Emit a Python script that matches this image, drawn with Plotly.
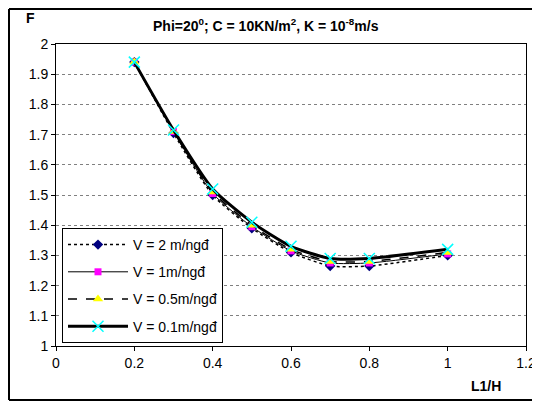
import plotly.graph_objects as go

x_vals = [0.2, 0.3, 0.4, 0.5, 0.6, 0.7, 0.8, 1.0]
v2 = [1.94, 1.705, 1.50, 1.39, 1.31, 1.265, 1.265, 1.30]
v1 = [1.94, 1.71, 1.505, 1.395, 1.315, 1.275, 1.275, 1.305]
v05 = [1.94, 1.71, 1.51, 1.40, 1.32, 1.28, 1.28, 1.31]
v01 = [1.94, 1.715, 1.52, 1.41, 1.33, 1.29, 1.29, 1.32]
names = ["V = 2 m/ngđ", "V = 1m/ngđ", "V = 0.5m/ngđ", "V = 0.1m/ngđ"]
y_ticks = [1, 1.1, 1.2, 1.3, 1.4, 1.5, 1.6, 1.7, 1.8, 1.9, 2]
x_ticks = [0, 0.2, 0.4, 0.6, 0.8, 1, 1.2]

fig = go.Figure()
styles = [
    dict(dash="dot", width=1.5, symbol="diamond", color="#000080", msize=8),
    dict(dash="solid", width=1, symbol="square", color="#FF00FF", msize=7),
    dict(dash="dash", width=1.5, symbol="triangle-up", color="#FFFF00", msize=9),
    dict(dash="solid", width=3, symbol="x-thin", color="#00FFFF", msize=11),
]
for i, (ys, nm, st) in enumerate(zip([v2, v1, v05, v01], names, styles)):
    fig.add_trace(go.Scatter(
        x=x_vals, y=ys, name=nm, mode="lines+markers", legendgroup=f"g{i}",
        line=dict(color="black", dash=st["dash"], width=st["width"], shape="spline", smoothing=0.6),
        marker=dict(symbol=st["symbol"], color=st["color"], size=st["msize"],
                    line=dict(color=st["color"], width=1.5 if st["symbol"] == "x-thin" else 0)),
    ))

OFF = 8  # page body margin offset
L, R, T, B = 56 - OFF, 526 - OFF, 44 - OFF, 346 - OFF  # plot area in figure px

def px2x(p):
    return (p - OFF - L) / (R - L)

def px2y(p):
    return (B - (p - OFF)) / (B - T)

fig.update_layout(
    width=540, height=404,
    margin=dict(l=L, r=540 - R, t=T, b=404 - B),
    paper_bgcolor="white", plot_bgcolor="white",
    font=dict(family="Liberation Sans, Arial, sans-serif", size=14, color="black"),
    showlegend=True,
    legend=dict(x=px2x(62), y=px2y(228), xanchor="left", yanchor="top",
                bordercolor="black", borderwidth=1, bgcolor="white",
                font=dict(size=14), tracegroupgap=6, itemwidth=60),
    xaxis=dict(range=[0, 1.2], tickvals=x_ticks, ticktext=["0", "0.2", "0.4", "0.6", "0.8", "1", "1.2"],
               showgrid=False, showline=True, linecolor="black", linewidth=1, mirror=True,
               ticks="outside", ticklen=4, tickcolor="black", zeroline=False, automargin=False),
    yaxis=dict(range=[1, 2], tickvals=y_ticks, ticktext=["1", "1.1", "1.2", "1.3", "1.4", "1.5", "1.6", "1.7", "1.8", "1.9", "2"],
               showgrid=True, gridcolor="#808080", griddash="dot", gridwidth=1,
               showline=True, linecolor="black", linewidth=1, mirror=True,
               ticks="outside", ticklen=4, tickcolor="black", zeroline=False, automargin=False),
)

# outer chart border (left, top, bottom; right edge lies outside the picture)
for (xa, ya, xb, yb) in [(9, 9, 9, 400), (9, 9, 560, 9), (9, 400, 560, 400)]:
    fig.add_shape(type="line", xref="paper", yref="paper",
                  x0=px2x(xa), y0=px2y(ya), x1=px2x(xb), y1=px2y(yb),
                  line=dict(color="black", width=2))

fig.add_annotation(text="<b>Phi=20<sup>0</sup>; C = 10KN/m<sup>2</sup>, K = 10<sup>-8</sup>m/s</b>",
                   xref="paper", yref="paper", x=px2x(266), y=px2y(25),
                   showarrow=False, font=dict(size=14), xanchor="center", yanchor="middle")
fig.add_annotation(text="<b>F</b>", xref="paper", yref="paper", x=px2x(30), y=px2y(18),
                   showarrow=False, font=dict(size=14), xanchor="center", yanchor="middle")
fig.add_annotation(text="<b>L1/H</b>", xref="paper", yref="paper", x=px2x(486), y=px2y(386),
                   showarrow=False, font=dict(size=14), xanchor="center", yanchor="middle")

fig.write_html("out.html")
